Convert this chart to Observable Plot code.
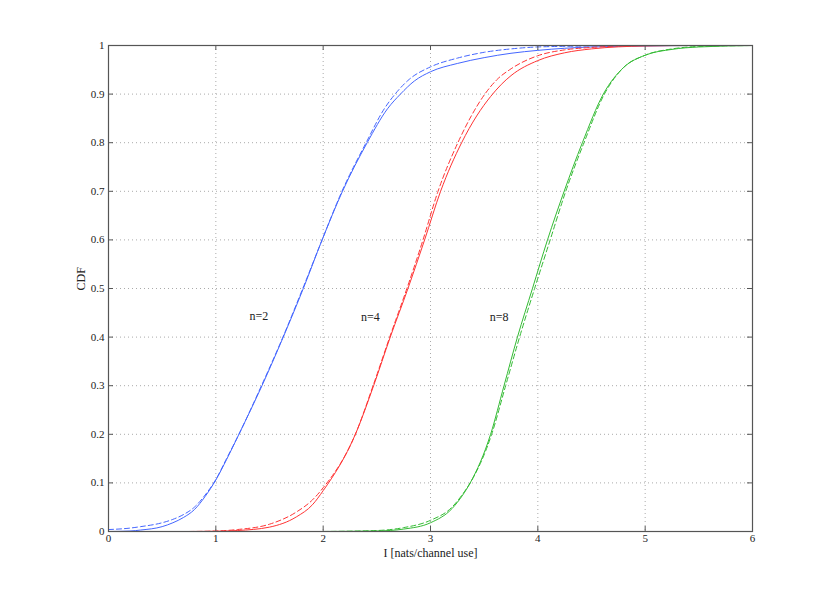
<!DOCTYPE html>
<html>
<head>
<meta charset="utf-8">
<script src="https://cdn.jsdelivr.net/npm/d3@7"></script>
<script src="https://cdn.jsdelivr.net/npm/@observablehq/plot@0.6"></script>
<style>
  html, body { margin: 0; padding: 0; background: #fff; }
  #chart { width: 830px; height: 598px; }
  #chart svg, #chart svg text { font-family: "Liberation Serif", "Times New Roman", "DejaVu Serif", serif !important; }
</style>
</head>
<body>
<div id="chart"></div>
<script>
// Tick values
const xTicks = [0, 1, 2, 3, 4, 5, 6];
const yTicks = [0, 0.1, 0.2, 0.3, 0.4, 0.5, 0.6, 0.7, 0.8, 0.9, 1];

// n=2 (blue)
const n2Solid = [[0,0],[0.2,0.001],[0.3,0.003],[0.5,0.01],[0.6,0.018],[0.7,0.029],[0.8,0.045],[0.9,0.072],[1.0,0.106],[1.1,0.148],[1.215,0.2],[1.43,0.3],[1.628,0.4],[1.815,0.5],[1.99,0.6],[2.18,0.7],[2.41,0.8],[2.6,0.87],[2.72,0.9],[2.85,0.927],[3.0,0.946],[3.25,0.963],[3.5,0.975],[3.75,0.984],[4.0,0.99],[4.5,0.997],[5,0.999],[5.5,1],[6,1]];
const n2Dashed = [[0,0.004],[0.2,0.007],[0.3,0.01],[0.5,0.018],[0.6,0.025],[0.7,0.035],[0.8,0.05],[0.9,0.075],[1.0,0.107],[1.1,0.15],[1.215,0.2],[1.425,0.3],[1.625,0.4],[1.81,0.5],[1.99,0.6],[2.175,0.7],[2.4,0.8],[2.57,0.87],[2.67,0.9],[2.8,0.93],[3.0,0.956],[3.25,0.974],[3.5,0.986],[3.75,0.993],[4.0,0.997],[4.5,0.999],[5,1],[6,1]];

// n=4 (red)
const n4Solid = [[0.75,0],[1.0,0.0005],[1.2,0.002],[1.5,0.009],[1.75,0.03],[1.9,0.055],[2.0,0.084],[2.3,0.2],[2.47,0.3],[2.625,0.4],[2.79,0.5],[2.945,0.6],[3.094,0.7],[3.29,0.8],[3.43,0.855],[3.56,0.895],[3.66,0.92],[3.75,0.938],[4.0,0.969],[4.25,0.985],[4.5,0.993],[5,0.999],[5.5,1],[6,1]];
const n4Dashed = [[0.75,0],[1.0,0.001],[1.2,0.004],[1.5,0.015],[1.75,0.04],[1.9,0.065],[2.0,0.09],[2.3,0.2],[2.465,0.3],[2.62,0.4],[2.78,0.5],[2.93,0.6],[3.07,0.7],[3.255,0.8],[3.38,0.855],[3.5,0.898],[3.62,0.93],[3.75,0.952],[4.0,0.979],[4.25,0.991],[4.5,0.996],[5,1],[6,1]];

// n=8 (green)
const n8Solid = [[2.0,0],[2.5,0.001],[2.75,0.005],[3.0,0.018],[3.2,0.047],[3.3,0.075],[3.37,0.1],[3.56,0.2],[3.685,0.3],[3.81,0.4],[3.95,0.5],[4.09,0.6],[4.245,0.7],[4.415,0.8],[4.61,0.9],[4.8,0.955],[5.0,0.98],[5.25,0.992],[5.5,0.997],[6,1]];
const n8Dashed = [[2.0,0],[2.5,0.002],[2.75,0.008],[3.0,0.023],[3.2,0.05],[3.3,0.077],[3.37,0.1],[3.57,0.2],[3.7,0.3],[3.83,0.4],[3.97,0.5],[4.115,0.6],[4.26,0.7],[4.43,0.8],[4.62,0.9],[4.8,0.955],[5.0,0.98],[5.25,0.993],[5.5,0.998],[6,1]];

// Curve annotations
const labels = [
  {x: 1.40, y: 0.444, text: "n=2"},
  {x: 2.44, y: 0.441, text: "n=4"},
  {x: 3.64, y: 0.441, text: "n=8"}
];

const blue = "#4466ff", red = "#ff3333", green = "#33bb33";
const dash = "5,3";

function line(data, color, dashed) {
  return Plot.line(data, {
    x: d => d[0], y: d => d[1],
    stroke: color, strokeWidth: 1,
    strokeDasharray: dashed ? dash : null,
    curve: "monotone-x"
  });
}

const W = 830, H = 598, ML = 108, MR = 78, MT = 45, MB = 67;
const innerW = W - ML - MR, innerH = H - MT - MB, tk = 5;
const serif = "Liberation Serif";

const chart = Plot.plot({
  width: W, height: H,
  marginLeft: ML, marginRight: MR, marginTop: MT, marginBottom: MB,
  style: {fontFamily: serif, fontSize: "11px", background: "#fff", color: "#222"},
  x: {domain: [0, 6]},
  y: {domain: [0, 1]},
  marks: [
    Plot.gridX(xTicks.slice(1, -1), {stroke: "#aaa", strokeOpacity: 1, strokeDasharray: "1,3"}),
    Plot.gridY(yTicks.slice(1, -1), {stroke: "#aaa", strokeOpacity: 1, strokeDasharray: "1,3"}),
    line(n2Solid, blue, false), line(n2Dashed, blue, true),
    line(n4Solid, red, false), line(n4Dashed, red, true),
    line(n8Solid, green, false), line(n8Dashed, green, true),
    Plot.frame({stroke: "#555", strokeWidth: 1.2}),
    Plot.tickX(xTicks, {x: d => d, stroke: "#555", insetTop: innerH - tk}),
    Plot.tickX(xTicks, {x: d => d, stroke: "#555", insetBottom: innerH - tk}),
    Plot.tickY(yTicks, {y: d => d, stroke: "#555", insetRight: innerW - tk}),
    Plot.tickY(yTicks, {y: d => d, stroke: "#555", insetLeft: innerW - tk}),
    Plot.axisX(xTicks, {tickSize: 0, tickPadding: 3, label: null, fontSize: 11, fontFamily: serif, tickFormat: d => String(d)}),
    Plot.axisY(yTicks, {tickSize: 0, tickPadding: 4, label: null, fontSize: 11, fontFamily: serif, tickFormat: d => String(+d.toFixed(1))}),
    Plot.text(["I [nats/channel use]"], {frameAnchor: "bottom", dy: 25, text: d => d, fontSize: 12, fontFamily: serif, fill: "#222"}),
    Plot.text(["CDF"], {frameAnchor: "left", dx: -27, dy: 2, rotate: -90, text: d => d, fontSize: 12, fontFamily: serif, fill: "#222"}),
    Plot.text(labels, {x: "x", y: "y", text: "text", fontSize: 12, fontFamily: serif, fill: "#222"})
  ]
});
document.getElementById("chart").appendChild(chart);
</script>
</body>
</html>
